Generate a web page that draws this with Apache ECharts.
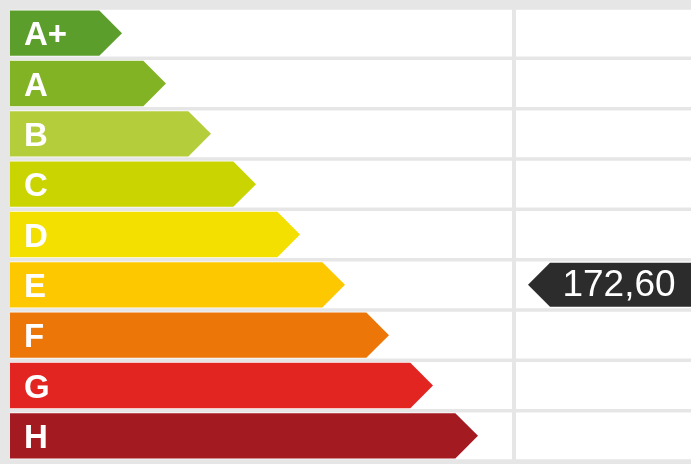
<!DOCTYPE html>
<html>
<head>
<meta charset="utf-8">
<script src="https://cdn.jsdelivr.net/npm/echarts@6/dist/echarts.min.js"></script>
<style>
html,body{margin:0;padding:0;background:#e6e6e6;}
#chart{width:691px;height:464px;}
</style>
</head>
<body>
<div id="chart"></div>
<script>
// Data
const categories = ['A+', 'A', 'B', 'C', 'D', 'E', 'F', 'G', 'H'];
const arrowLengths = [112, 156, 201, 246, 290, 335, 379, 423, 468];
const classColors = ['#5c9e2c', '#82b325', '#b4cd3b', '#c9d400', '#f3e000', '#fdc800', '#ec7608', '#e32522', '#a41a21'];
const ratingClass = 'E';
const ratingValue = 172.60;
const ratingLabel = '172,60';

// Layout constants (styles)
const dividerX = 504;   // in axis units from grid left
const rowGap = 3.5;

const chart = echarts.init(document.getElementById('chart'));

const option = {
  backgroundColor: '#e6e6e6',
  animation: false,
  grid: { left: 10, right: 0, top: 8, bottom: 3 },
  xAxis: { type: 'value', min: 0, max: 681, show: false },
  yAxis: { type: 'category', data: categories, inverse: true, show: false },
  series: [
    {
      // white table cells
      type: 'custom',
      silent: true,
      data: categories.map((c) => [0, c]),
      renderItem: function (params, api) {
        const cs = params.coordSys;
        const yc = api.coord([0, api.value(1)])[1];
        const band = api.size([0, 1])[1];
        const h = band - rowGap;
        const xDiv = api.coord([dividerX, 0])[0];
        return {
          type: 'group',
          children: [
            { type: 'rect', shape: { x: cs.x, y: yc - h / 2, width: xDiv - 2 - cs.x, height: h }, style: { fill: '#ffffff' } },
            { type: 'rect', shape: { x: xDiv + 2, y: yc - h / 2, width: cs.x + cs.width - xDiv - 2, height: h }, style: { fill: '#ffffff' } }
          ]
        };
      },
      z: 1
    },
    {
      // class arrows
      type: 'custom',
      silent: true,
      data: categories.map((c, i) => [arrowLengths[i], c]),
      renderItem: function (params, api) {
        const i = params.dataIndex;
        const start = api.coord([0, api.value(1)]);
        const tip = api.coord([api.value(0), api.value(1)]);
        const band = api.size([0, 1])[1];
        const h = band - rowGap - 1.5;
        const yc = start[1];
        const x0 = start[0];
        const xt = tip[0];
        return {
          type: 'group',
          children: [
            {
              type: 'polygon',
              shape: { points: [[x0, yc - h / 2], [xt - h / 2, yc - h / 2], [xt, yc], [xt - h / 2, yc + h / 2], [x0, yc + h / 2]] },
              style: { fill: classColors[i] }
            },
            {
              type: 'text',
              x: x0 + 14,
              y: yc + 3,
              style: {
                text: categories[i],
                fill: '#ffffff',
                font: 'bold 33px "Liberation Sans", Arial, sans-serif',
                textAlign: 'left',
                textVerticalAlign: 'middle'
              }
            }
          ]
        };
      },
      z: 2
    },
    {
      // rating marker
      type: 'custom',
      silent: true,
      data: [[ratingValue, ratingClass]],
      renderItem: function (params, api) {
        const cs = params.coordSys;
        const yc = api.coord([0, api.value(1)])[1];
        const h = 44;
        const xDiv = api.coord([dividerX, 0])[0];
        const xt = xDiv + 14;
        const xr = cs.x + cs.width + 2;
        return {
          type: 'group',
          children: [
            {
              type: 'polygon',
              shape: { points: [[xt, yc], [xt + 22, yc - h / 2], [xr, yc - h / 2], [xr, yc + h / 2], [xt + 22, yc + h / 2]] },
              style: { fill: '#2c2c2c' }
            },
            {
              type: 'text',
              x: 619,
              y: yc + 1,
              style: {
                text: ratingLabel,
                fill: '#ffffff',
                font: '37px "Liberation Sans", Arial, sans-serif',
                textAlign: 'center',
                textVerticalAlign: 'middle'
              }
            }
          ]
        };
      },
      z: 3
    }
  ]
};
chart.setOption(option);
</script>
</body>
</html>
